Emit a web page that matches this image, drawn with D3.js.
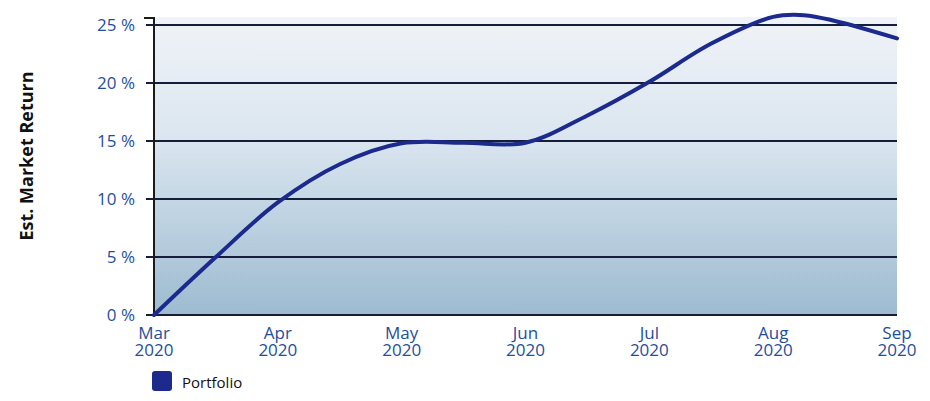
<!DOCTYPE html>
<html><head><meta charset="utf-8">
<script src="https://cdn.jsdelivr.net/npm/d3@7"></script>
<style>
html,body{margin:0;padding:0;background:#fff;}
svg{display:block;}
</style></head>
<body>
<svg id="chart" width="930" height="401"></svg>
<script>
const months = ["Mar", "Apr", "May", "Jun", "Jul", "Aug", "Sep"];
const years = ["2020", "2020", "2020", "2020", "2020", "2020", "2020"];
// readings at every half month, position measured in months after Mar 2020
const positions = [0, 0.5, 1, 1.5, 2, 2.5, 3, 3.5, 4, 4.5, 5, 5.25, 5.5, 6];
const portfolio = [0, 5.0, 9.7, 13.0, 14.8, 14.85, 14.85, 17.2, 20.1, 23.4, 25.7, 25.85, 25.35, 23.85];
const yTicks = [0, 5, 10, 15, 20, 25];
const seriesName = "Portfolio";

const svg = d3.select("#chart");
const mLeft = 154, mRight = 897, mTop = 25, mBottom = 315;

const x = d3.scalePoint().domain(months).range([mLeft, mRight]);
const xPos = d3.scaleLinear().domain([0, months.length - 1]).range([mLeft, mRight]);
const y = d3.scaleLinear().domain([0, 25]).range([mBottom, mTop]);

const defs = svg.append("defs");
const grad = defs.append("linearGradient").attr("id", "bg").attr("x1", 0).attr("y1", 0).attr("x2", 0).attr("y2", 1);
grad.append("stop").attr("offset", "0%").attr("stop-color", "#f0f3f7");
grad.append("stop").attr("offset", "40%").attr("stop-color", "#dbe6f0");
grad.append("stop").attr("offset", "100%").attr("stop-color", "#9dbbd0");

svg.append("rect").attr("x", mLeft).attr("y", mTop - 8).attr("width", mRight - mLeft).attr("height", mBottom - mTop + 8)
  .attr("fill", "url(#bg)");

// gridlines
svg.append("g").selectAll("line").data(yTicks).join("line")
  .attr("x1", mLeft - 8).attr("x2", mRight)
  .attr("y1", d => y(d)).attr("y2", d => y(d))
  .attr("stroke", "#161d3a").attr("stroke-width", 2);

// y axis line
svg.append("path").attr("d", `M${mLeft - 10},${mTop - 7}H${mLeft}V${mBottom}`)
  .attr("fill", "none").attr("stroke", "#1a1a1a").attr("stroke-width", 2);

// y tick labels
svg.append("g").selectAll("text").data(yTicks).join("text")
  .attr("x", mLeft - 19).attr("y", d => y(d) + 6)
  .attr("text-anchor", "end")
  .attr("font-family", "'Open Sans', sans-serif").attr("font-size", 17)
  .attr("fill", "#1f4e9e")
  .text(d => d + " %");

// x tick labels
const xl = svg.append("g").selectAll("text").data(months).join("text")
  .attr("text-anchor", "middle")
  .attr("font-family", "'Open Sans', sans-serif").attr("font-size", 17)
  .attr("fill", "#1f4e9e");
xl.append("tspan").attr("x", d => x(d)).attr("y", mBottom + 24).text(d => d);
xl.append("tspan").attr("x", d => x(d)).attr("y", mBottom + 41).text((d, i) => years[i]);

// line
const line = d3.line().x((d, i) => xPos(positions[i])).y(d => y(d)).curve(d3.curveCatmullRom.alpha(0.5));
svg.append("path").datum(portfolio).attr("d", line)
  .attr("fill", "none").attr("stroke", "#1b2a8c").attr("stroke-width", 4).attr("stroke-linecap", "round");

// y label
svg.append("text").attr("transform", `translate(33,156) rotate(-90)`)
  .attr("text-anchor", "middle")
  .attr("font-family", "'Open Sans', sans-serif").attr("font-weight", "bold").attr("font-size", 18)
  .attr("fill", "#111")
  .text("Est. Market Return");

// legend
svg.append("rect").attr("x", 152).attr("y", 371).attr("width", 20).attr("height", 20).attr("rx", 3)
  .attr("fill", "#1b2a8c");
svg.append("text").attr("x", 182).attr("y", 388)
  .attr("font-family", "'Open Sans', sans-serif").attr("font-size", 15).attr("fill", "#111")
  .text(seriesName);
</script>
</body></html>
